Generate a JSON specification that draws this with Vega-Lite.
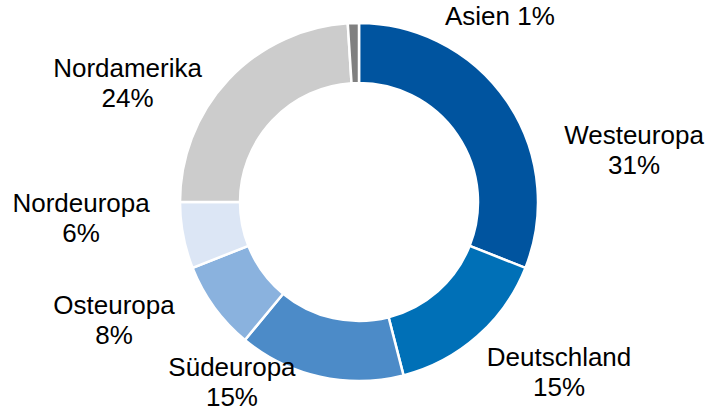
{
  "$schema": "https://vega.github.io/schema/vega-lite/v6.json",
  "width": 700,
  "height": 404,
  "autosize": "none",
  "padding": {"left": 9, "right": 0, "top": 0, "bottom": 10},
  "background": "white",
  "config": {"view": {"stroke": null}, "text": {"font": "Liberation Sans"}},
  "data": {
    "values": [
      {"region": "Westeuropa", "label": "Westeuropa\n31%", "value": 31, "rank": 1},
      {"region": "Deutschland", "label": "Deutschland\n15%", "value": 15, "rank": 2},
      {"region": "Südeuropa", "label": "Südeuropa\n15%", "value": 15, "rank": 3},
      {"region": "Osteuropa", "label": "Osteuropa\n8%", "value": 8, "rank": 4},
      {"region": "Nordeuropa", "label": "Nordeuropa\n6%", "value": 6, "rank": 5},
      {"region": "Nordamerika", "label": "Nordamerika\n24%", "value": 24, "rank": 6},
      {"region": "Asien", "label": "Asien 1%", "value": 1, "rank": 7}
    ]
  },
  "encoding": {
    "theta": {"field": "value", "type": "quantitative", "stack": true},
    "order": {"field": "rank", "type": "quantitative"}
  },
  "layer": [
    {
      "mark": {"type": "arc", "outerRadius": 179, "innerRadius": 119, "stroke": "white", "strokeWidth": 2.5},
      "encoding": {
        "color": {
          "field": "region",
          "type": "nominal",
          "scale": {
            "domain": ["Westeuropa", "Deutschland", "Südeuropa", "Osteuropa", "Nordeuropa", "Nordamerika", "Asien"],
            "range": ["#00549F", "#0070B7", "#4C8BC8", "#8AB2DE", "#DCE6F5", "#CCCCCC", "#808080"]
          },
          "legend": null
        }
      }
    },
    {
      "mark": {"type": "text", "radius": 240, "dx": 76.5, "dy": 69.2, "fontSize": 26, "lineHeight": 30, "lineBreak": "\n", "align": "center", "baseline": "middle", "color": "#000000"},
      "encoding": {"text": {"condition": {"test": "datum.region === 'Westeuropa'", "field": "label"}, "value": ""}}
    },
    {
      "mark": {"type": "text", "radius": 240, "dx": 41.3, "dy": -23.7, "fontSize": 26, "lineHeight": 30, "lineBreak": "\n", "align": "center", "baseline": "middle", "color": "#000000"},
      "encoding": {"text": {"condition": {"test": "datum.region === 'Deutschland'", "field": "label"}, "value": ""}}
    },
    {
      "mark": {"type": "text", "radius": 240, "dx": -74.7, "dy": -67.9, "fontSize": 26, "lineHeight": 30, "lineBreak": "\n", "align": "center", "baseline": "middle", "color": "#000000"},
      "encoding": {"text": {"condition": {"test": "datum.region === 'Südeuropa'", "field": "label"}, "value": ""}}
    },
    {
      "mark": {"type": "text", "radius": 240, "dx": -50.8, "dy": -36.8, "fontSize": 26, "lineHeight": 30, "lineBreak": "\n", "align": "center", "baseline": "middle", "color": "#000000"},
      "encoding": {"text": {"condition": {"test": "datum.region === 'Osteuropa'", "field": "label"}, "value": ""}}
    },
    {
      "mark": {"type": "text", "radius": 240, "dx": -42.2, "dy": -43, "fontSize": 26, "lineHeight": 30, "lineBreak": "\n", "align": "center", "baseline": "middle", "color": "#000000"},
      "encoding": {"text": {"condition": {"test": "datum.region === 'Nordeuropa'", "field": "label"}, "value": ""}}
    },
    {
      "mark": {"type": "text", "radius": 240, "dx": -56.5, "dy": 31.6, "fontSize": 26, "lineHeight": 30, "lineBreak": "\n", "align": "center", "baseline": "middle", "color": "#000000"},
      "encoding": {"text": {"condition": {"test": "datum.region === 'Nordamerika'", "field": "label"}, "value": ""}}
    },
    {
      "mark": {"type": "text", "radius": 240, "dx": 93.5, "dy": 63.2, "fontSize": 26, "align": "left", "baseline": "alphabetic", "color": "#000000"},
      "encoding": {"text": {"condition": {"test": "datum.region === 'Asien'", "field": "label"}, "value": ""}}
    }
  ]
}
